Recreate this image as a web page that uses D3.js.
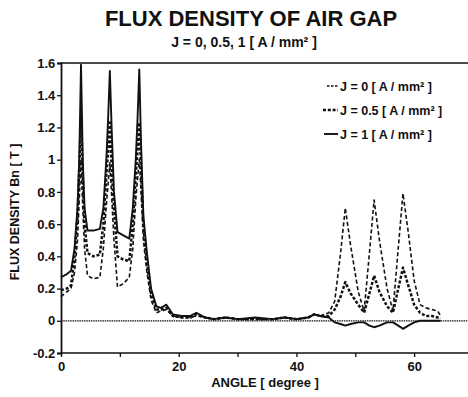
<!DOCTYPE html>
<html>
<head>
<meta charset="utf-8">
<script src="https://cdn.jsdelivr.net/npm/d3@7"></script>
<style>
  body { margin: 0; background: #fff; }
  text { font-family: "Liberation Sans", Arial, sans-serif; font-weight: bold; fill: #111; }
</style>
</head>
<body>
<div id="chart"></div>
<script>
const width = 468;
const height = 397;

// angle in degrees
const angles = [0, 1, 1.7, 2.3, 2.8, 3.1, 3.4, 3.7, 4.0, 4.5, 5.5, 6.6, 7.2, 7.7, 8.0, 8.3, 8.6, 9.0, 9.6,
  10.6, 11.6, 12.2, 12.7, 13.0, 13.3, 13.6, 14.0, 14.6, 15.3, 16.2, 17.0, 17.9, 19.0, 20.5, 22, 23, 24.5,
  26, 28, 30, 33, 36, 38, 40, 42, 43, 44, 45.5, 46.5, 47.5, 48.3, 49.2, 50.5, 51.5, 52.4, 53.2, 54.1,
  55.4, 56.4, 57.3, 58.1, 59, 60, 61, 62, 63, 64, 64.5];

const j0 = [0.15, 0.18, 0.2, 0.3, 0.5, 0.75, 1.0, 0.7, 0.45, 0.28, 0.26, 0.27, 0.45, 0.72, 0.85, 0.98, 0.78, 0.5, 0.21,
  0.23, 0.27, 0.45, 0.75, 0.88, 1.0, 0.8, 0.5, 0.3, 0.13, 0.05, 0.06, 0.07, 0.03, 0.02, 0.02, 0.03, 0.02,
  0.01, 0.02, 0.01, 0.01, 0.01, 0.02, 0.01, 0.02, 0.04, 0.03, 0.05, 0.12, 0.42, 0.70, 0.47, 0.18, 0.06, 0.42, 0.75, 0.5,
  0.2, 0.06, 0.45, 0.79, 0.55, 0.25, 0.1, 0.08, 0.07, 0.06, 0.03];

const j05 = [0.19, 0.2, 0.22, 0.4, 0.65, 0.95, 1.28, 0.9, 0.6, 0.42, 0.40, 0.41, 0.6, 0.9, 1.05, 1.23, 0.95, 0.7, 0.40,
  0.38, 0.37, 0.6, 0.9, 1.05, 1.23, 0.95, 0.58, 0.36, 0.17, 0.07, 0.07, 0.08, 0.03, 0.02, 0.02, 0.04, 0.02,
  0.01, 0.02, 0.01, 0.01, 0.01, 0.02, 0.01, 0.02, 0.04, 0.03, 0.03, 0.07, 0.15, 0.24, 0.17, 0.10, 0.05, 0.17, 0.28, 0.18,
  0.09, 0.05, 0.2, 0.33, 0.22, 0.1, 0.05, 0.03, 0.03, 0.02, 0.02];

const j1 = [0.27, 0.29, 0.31, 0.45, 0.70, 1.0, 1.59, 1.0, 0.70, 0.56, 0.56, 0.57, 0.70, 1.0, 1.25, 1.55, 1.2, 0.8, 0.55,
  0.53, 0.51, 0.7, 1.0, 1.25, 1.56, 1.1, 0.65, 0.42, 0.2, 0.09, 0.08, 0.10, 0.04, 0.03, 0.03, 0.05, 0.02,
  0.01, 0.02, 0.01, 0.02, 0.01, 0.02, 0.01, 0.02, 0.04, 0.03, 0.02, -0.01, -0.02, -0.03, -0.02, -0.01, -0.01, -0.03, -0.04, -0.03,
  -0.01, -0.01, -0.03, -0.05, -0.03, -0.01, 0.0, 0.0, 0.0, 0.0, 0.0];

const seriesNames = ["J = 0 [ A / mm\u00B2 ]", "J = 0.5 [ A / mm\u00B2 ]", "J = 1 [ A / mm\u00B2 ]"];
const seriesValues = [j0, j05, j1];

const xTicks = [0, 10, 20, 30, 40, 50, 60];
const xTickLabels = ["0", "", "20", "", "40", "", "60"];
const yTicks = [-0.2, 0, 0.2, 0.4, 0.6, 0.8, 1, 1.2, 1.4, 1.6];
const yTickLabels = ["-0.2", "0", "0.2", "0.4", "0.6", "0.8", "1", "1.2", "1.4", "1.6"];

const styles = [
  { dash: "4,2.5", legendDash: "2.5,1.5", w: 1.6, x1: 327 },
  { dash: "3,1.8", legendDash: "3,1.8", w: 2.5, x1: 323 },
  { dash: null, legendDash: null, w: 1.9, x1: 324 }
];

const x = d3.scaleLinear().domain([0, 70]).range([61, 473]);
const y = d3.scaleLinear().domain([-0.2, 1.6]).range([353, 63]);

const svg = d3.select("#chart").append("svg")
  .attr("width", width)
  .attr("height", height);

svg.append("text")
  .attr("x", 251).attr("y", 26)
  .attr("text-anchor", "middle")
  .style("font-size", "22px")
  .text("FLUX DENSITY OF AIR GAP");

svg.append("text")
  .attr("x", 244).attr("y", 47)
  .attr("text-anchor", "middle")
  .style("font-size", "14px")
  .text("J = 0, 0.5, 1 [ A / mm\u00B2 ]");

// frame: top border and zero line
svg.append("line")
  .attr("x1", x(0)).attr("x2", width)
  .attr("y1", y(1.6)).attr("y2", y(1.6))
  .attr("stroke", "#111").attr("stroke-width", 1.5);

svg.append("line")
  .attr("x1", x(0)).attr("x2", width)
  .attr("y1", y(0)).attr("y2", y(0))
  .attr("stroke", "#111").attr("stroke-width", 1.3)
  .attr("stroke-dasharray", "1.5,0.8");

const xAxis = svg.append("g")
  .attr("transform", "translate(0," + y(-0.2) + ")")
  .call(d3.axisBottom(x).tickValues(xTicks).tickSize(4)
    .tickFormat(function(d, i) { return xTickLabels[i]; }));
xAxis.select(".domain").attr("d", "M" + x(0) + ",0H" + width).attr("stroke-width", 1.5);
xAxis.selectAll("text").style("font-size", "13px").attr("dy", "0.85em");

const yAxis = svg.append("g")
  .attr("transform", "translate(" + x(0) + ",0)")
  .call(d3.axisLeft(y).tickValues(yTicks).tickSize(4)
    .tickFormat(function(d, i) { return yTickLabels[i]; }));
yAxis.select(".domain").attr("stroke-width", 1.8);
yAxis.selectAll("text").style("font-size", "13px").attr("dx", "0.1em");
svg.selectAll(".tick line").attr("stroke", "#111").attr("stroke-width", 1.3);
svg.selectAll(".domain").attr("stroke", "#111");

svg.append("text")
  .attr("transform", "translate(19,212) rotate(-90)")
  .attr("text-anchor", "middle")
  .style("font-size", "12.5px")
  .text("FLUX DENSITY Bn [ T ]");

svg.append("text")
  .attr("x", 265).attr("y", 387)
  .attr("text-anchor", "middle")
  .style("font-size", "13px")
  .text("ANGLE [ degree ]");

const line = d3.line()
  .x(function(d) { return x(d[0]); })
  .y(function(d) { return y(d[1]); });

seriesValues.forEach(function(vals, k) {
  svg.append("path")
    .datum(angles.map(function(a, i) { return [a, vals[i]]; }))
    .attr("fill", "none")
    .attr("stroke", "#111")
    .attr("stroke-width", styles[k].w)
    .attr("stroke-dasharray", styles[k].dash)
    .attr("stroke-linejoin", "round")
    .attr("d", line);
});

const legend = svg.append("g");
seriesNames.forEach(function(name, k) {
  const ly = 86 + k * 24;
  legend.append("line")
    .attr("x1", styles[k].x1).attr("x2", 338)
    .attr("y1", ly).attr("y2", ly)
    .attr("stroke", "#111")
    .attr("stroke-width", styles[k].w)
    .attr("stroke-dasharray", styles[k].legendDash);
  legend.append("text")
    .attr("x", 340).attr("y", ly + 4.5)
    .style("font-size", "12.5px")
    .text(name);
});
</script>
</body>
</html>
